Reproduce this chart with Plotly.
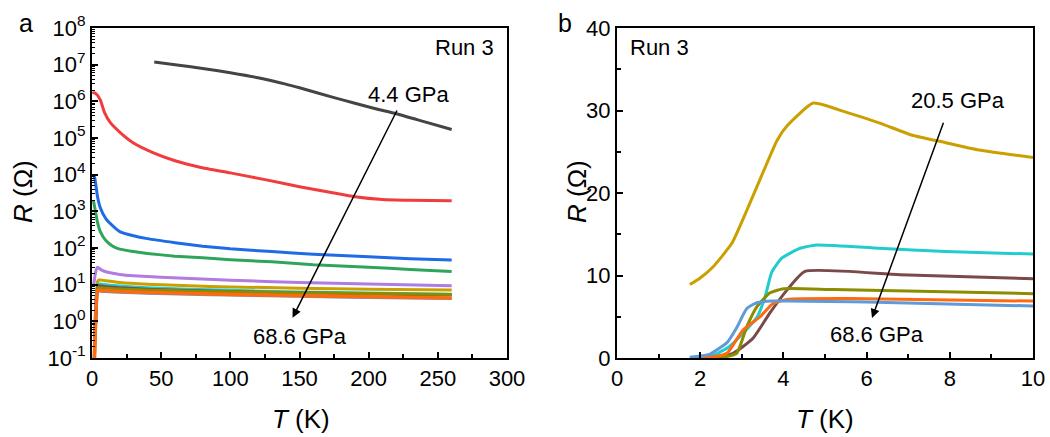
import plotly.graph_objects as go

# ---------------- Panel a data (T in K, R in Ohm) ----------------
T_black = [45, 60, 80, 100, 120, 140, 150, 175, 190, 205, 220, 240, 260]
R_black = [1.18e7, 1.0e7, 7.9e6, 6.0e6, 4.4e6, 2.95e6, 2.34e6, 1.26e6, 8.9e5, 6.3e5, 4.6e5, 2.8e5, 1.7e5]

T_red = [0.5, 1, 3, 6, 9, 13, 20, 30, 44, 60, 78, 100, 126, 150, 174, 190, 210, 230, 260]
R_red = [1.6e6, 1.7e6, 1.6e6, 1.1e6, 5.0e5, 2.7e5, 1.45e5, 7.3e4, 4.0e4, 2.4e4, 1.6e4, 1.12e4, 7.2e3, 4.7e3, 3.2e3, 2.5e3, 2.1e3, 2.0e3, 1.95e3]

T_blue = [1, 2, 4, 6, 10, 15, 20, 30, 40, 60, 80, 100, 130, 160, 200, 230, 260]
R_blue = [1.0e4, 8.0e3, 2.5e3, 1.25e3, 630, 400, 280, 215, 180, 140, 112, 95, 80, 68, 58, 51, 47]

T_green = [1, 2, 4, 6, 10, 15, 20, 30, 40, 60, 80, 100, 130, 160, 200, 230, 260]
R_green = [2.0e3, 1.25e3, 500, 280, 160, 112, 93, 80, 71, 60, 54, 48, 42, 35, 30, 26, 23]

T_purple = [1, 2, 3, 4, 5, 7, 10, 15, 20, 30, 50, 75, 100, 150, 200, 260]
R_purple = [8.7, 16, 25, 30, 28, 25, 22.5, 20.5, 19, 17.5, 16, 14.5, 13.2, 11.5, 10.5, 9.4]

T_low = [1.2, 2, 3, 4, 5, 7, 10, 20, 40, 70, 100, 150, 200, 260]
R_gold = [0.02, 0.5, 3, 12, 13.5, 13.3, 12.8, 11.5, 10.3, 9.3, 8.7, 8.0, 7.5, 7.1]
R_cyan = [0.01, 0.3, 2, 9.5, 10.5, 10.3, 10.0, 9.2, 8.3, 7.5, 7.0, 6.3, 5.9, 5.5]
R_brown = [0.01, 0.2, 1.5, 8.5, 9.3, 9.1, 8.8, 8.2, 7.5, 6.9, 6.5, 6.0, 5.6, 5.2]
R_olive = [0.01, 0.3, 3, 8.0, 8.3, 8.2, 8.0, 7.6, 7.1, 6.7, 6.4, 6.0, 5.7, 5.4]
R_steel = [0.01, 0.5, 5, 6.6, 6.7, 6.6, 6.5, 6.2, 5.8, 5.5, 5.2, 4.8, 4.5, 4.2]
R_orange = [0.005, 0.2, 2.5, 6.8, 7.0, 6.9, 6.8, 6.5, 6.1, 5.7, 5.4, 5.0, 4.7, 4.3]

# ---------------- Panel b data (T in K, R in Ohm) ----------------
Tb_gold = [1.75, 2.0, 2.3, 2.76, 3.12, 3.51, 3.85, 4.1, 4.72, 5.5, 6.3, 7.1, 7.9, 8.7, 10.0]
Rb_gold = [8.9, 9.7, 11.0, 13.9, 17.9, 22.5, 26.4, 28.2, 30.9, 29.8, 28.5, 27.0, 26.1, 25.2, 24.3]

Tb_cyan = [1.75, 2.2, 2.65, 3.03, 3.37, 3.56, 3.72, 3.96, 4.4, 4.8, 6.3, 7.9, 10.0]
Rb_cyan = [0.0, 0.1, 1.2, 3.0, 5.0, 7.4, 10.4, 12.1, 13.3, 13.7, 13.3, 12.9, 12.6]

Tb_brown = [2.0, 2.4, 2.8, 3.27, 3.68, 4.08, 4.52, 6.8, 10.0]
Rb_brown = [0.0, 0.15, 0.6, 2.4, 5.5, 8.2, 10.5, 10.1, 9.6]

Tb_olive = [2.2, 2.6, 2.88, 3.12, 3.36, 3.68, 4.0, 5.2, 10.0]
Rb_olive = [0.0, 0.15, 0.6, 3.8, 6.2, 7.9, 8.4, 8.3, 7.8]

Tb_orange = [2.0, 2.35, 2.65, 3.03, 3.44, 3.75, 4.08, 5.6, 10.0]
Rb_orange = [0.0, 0.15, 0.6, 3.4, 5.0, 6.6, 7.1, 7.2, 6.9]

Tb_steel = [1.75, 2.2, 2.65, 2.88, 3.12, 3.36, 3.75, 6.0, 10.0]
Rb_steel = [0.1, 0.4, 1.9, 3.7, 6.0, 6.7, 6.9, 6.8, 6.3]

ytick_vals = [1e-1, 1e0, 1e1, 1e2, 1e3, 1e4, 1e5, 1e6, 1e7, 1e8]
ytick_text = ["10<sup>-1</sup>", "10<sup>0</sup>", "10<sup>1</sup>", "10<sup>2</sup>", "10<sup>3</sup>",
              "10<sup>4</sup>", "10<sup>5</sup>", "10<sup>6</sup>", "10<sup>7</sup>", "10<sup>8</sup>"]

C = dict(black="#444444", red="#F03C3C", blue="#1E6BE6", green="#2EA55A", purple="#B07CE0",
         gold="#C9A000", cyan="#22CCCC", brown="#7A4A4A", olive="#8C8C00", steel="#5E9BD8",
         orange="#FF6A10")

fig = go.Figure()
LW = 3

def add(x, y, color, xa, ya, w=LW):
    fig.add_trace(go.Scatter(x=x, y=y, mode="lines", line=dict(color=color, width=w, shape="spline", smoothing=0.5),
                             xaxis=xa, yaxis=ya, showlegend=False, hoverinfo="skip"))

add(T_black, R_black, C["black"], "x", "y")
add(T_red, R_red, C["red"], "x", "y")
add(T_blue, R_blue, C["blue"], "x", "y")
add(T_green, R_green, C["green"], "x", "y")
add(T_purple, R_purple, C["purple"], "x", "y")
add(T_low, R_gold, C["gold"], "x", "y")
add(T_low, R_cyan, C["cyan"], "x", "y")
add(T_low, R_brown, C["brown"], "x", "y")
add(T_low, R_olive, C["olive"], "x", "y")
add(T_low, R_steel, C["steel"], "x", "y")
add(T_low, R_orange, C["orange"], "x", "y", 3.5)

add(Tb_gold, Rb_gold, C["gold"], "x2", "y2")
add(Tb_cyan, Rb_cyan, C["cyan"], "x2", "y2")
add(Tb_brown, Rb_brown, C["brown"], "x2", "y2")
add(Tb_olive, Rb_olive, C["olive"], "x2", "y2")
add(Tb_orange, Rb_orange, C["orange"], "x2", "y2")
add(Tb_steel, Rb_steel, C["steel"], "x2", "y2")

FONT = "Liberation Sans, Arial, sans-serif"
axis_common = dict(showline=True, linecolor="black", linewidth=2, mirror=True, ticks="inside",
                   tickcolor="black", tickwidth=2, ticklen=6, showgrid=False, zeroline=False,
                   automargin=False,
                   tickfont=dict(family=FONT, size=22, color="black"))

fig.update_layout(
    width=1050, height=437, margin=dict(l=0, r=0, t=0, b=0),
    paper_bgcolor="white", plot_bgcolor="white",
    xaxis=dict(domain=[92/1050, 507/1050], range=[0, 300], dtick=50,
               minor=dict(ticks="inside", dtick=25, ticklen=4, tickcolor="black", tickwidth=1.5),
               anchor="y", **axis_common),
    yaxis=dict(domain=[1-358/437, 1-28/437], type="log", range=[-1, 8],
               tickvals=ytick_vals, ticktext=ytick_text,
               minor=dict(ticks="inside", ticklen=3, tickcolor="black", tickwidth=1, dtick="D1"),
               anchor="x", **axis_common),
    xaxis2=dict(domain=[617/1050, 1033/1050], range=[0, 10], dtick=2,
                minor=dict(ticks="inside", dtick=1, ticklen=4, tickcolor="black", tickwidth=1.5),
                anchor="y2", **axis_common),
    yaxis2=dict(domain=[1-358/437, 1-28/437], range=[0, 40], dtick=10,
                minor=dict(ticks="inside", dtick=5, ticklen=4, tickcolor="black", tickwidth=1.5),
                anchor="x2", **axis_common),
)

def ann(text, x, y, xref="paper", yref="paper", size=22, xanchor="center", yanchor="middle", **kw):
    fig.add_annotation(text=text, x=x, y=y, xref=xref, yref=yref, showarrow=False,
                       xanchor=xanchor, yanchor=yanchor,
                       font=dict(family=FONT, size=size, color="black"), **kw)

# panel letters
ann("a", 26/1050, 1-23/437, size=25)
ann("b", 565/1050, 1-23/437, size=25)
# Run 3 labels
ann("Run 3", 496/1050, 1-48/437, xanchor="right")
ann("Run 3", 628/1050, 1-48/437, xanchor="left")
# axis titles
ann("<i>R</i> (Ω)", 23/1050, 1-192/437, size=26, textangle=-90)
ann("<i>R</i> (Ω)", 577/1050, 1-192/437, size=26, textangle=-90)
ann("<i>T</i> (K)", 301/1050, 1-419/437, size=26)
ann("<i>T</i> (K)", 825/1050, 1-419/437, size=26)

# pressure arrows panel a
fig.add_annotation(x=145, y=0.1, ax=221, ay=5.79, xref="x", yref="y", axref="x", ayref="y",
                   showarrow=True, arrowhead=2, arrowsize=1.2, arrowwidth=1.5, arrowcolor="black", text="")
ann("4.4 GPa", 228.5, 6.2, xref="x", yref="y")
ann("68.6 GPa", 150, -0.42, xref="x", yref="y")

# pressure arrows panel b
fig.add_annotation(x=6.13, y=4.85, ax=7.86, ay=28.7, xref="x2", yref="y2", axref="x2", ayref="y2",
                   showarrow=True, arrowhead=2, arrowsize=1.2, arrowwidth=1.5, arrowcolor="black", text="")
ann("20.5 GPa", 8.2, 31.2, xref="x2", yref="y2")
ann("68.6 GPa", 6.25, 2.8, xref="x2", yref="y2")

fig.write_html("out.html", config={"displayModeBar": False},
               post_script="document.body.style.margin='0';document.body.style.padding='0';")
